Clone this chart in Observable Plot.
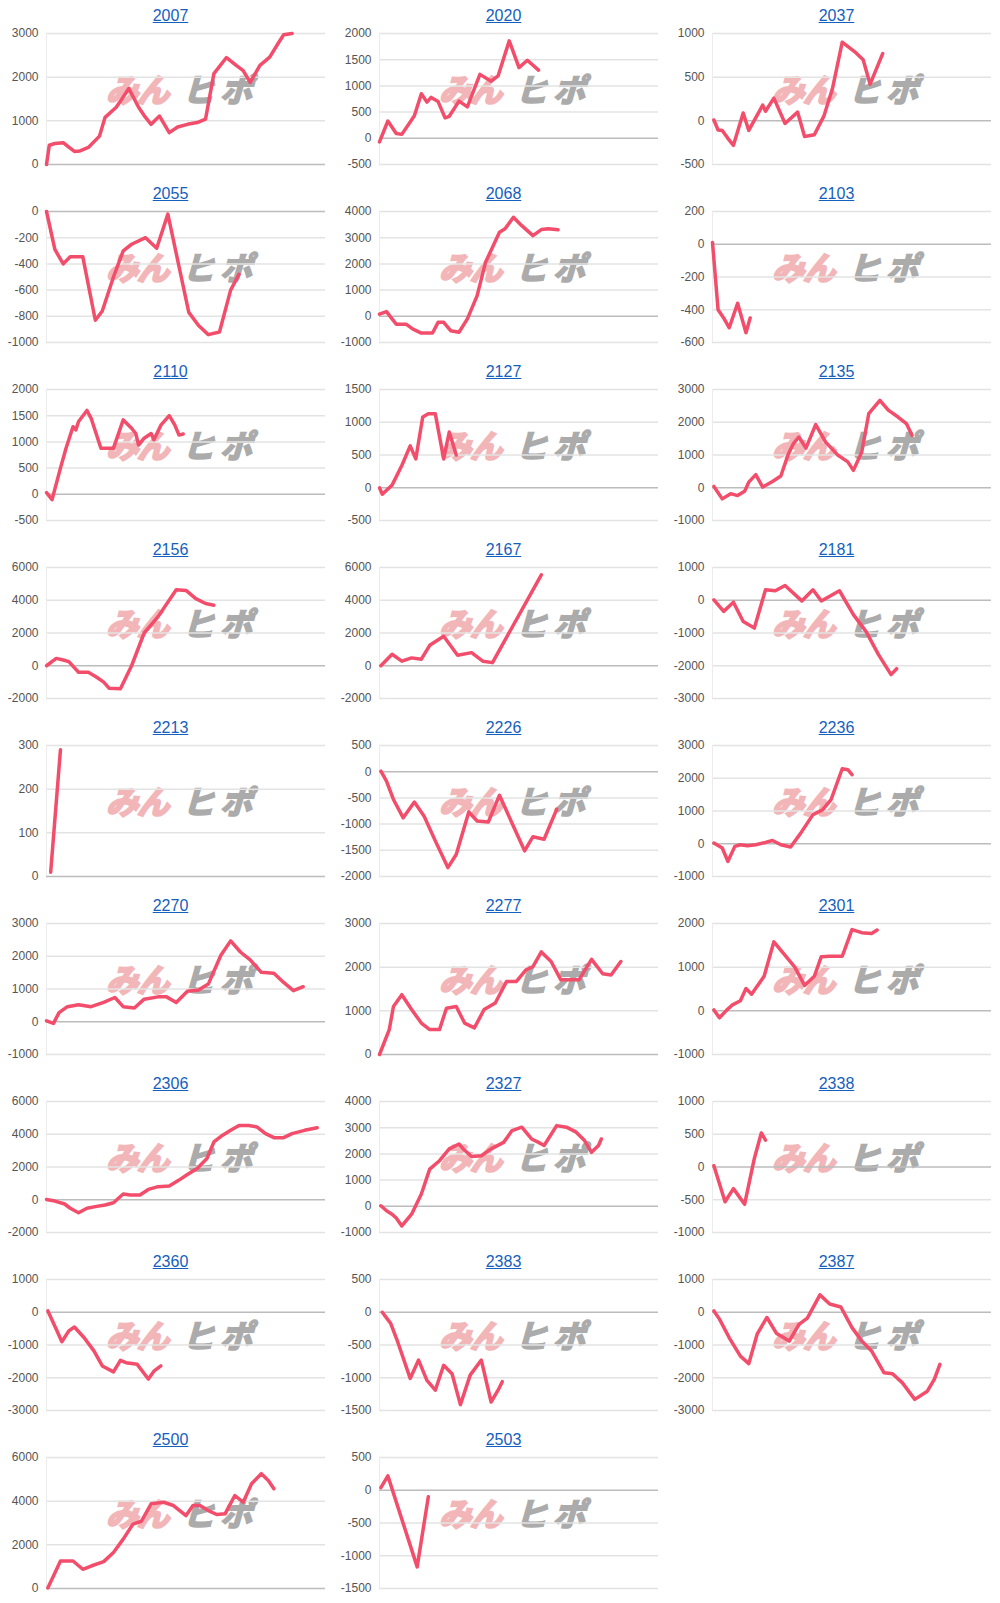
<!DOCTYPE html>
<html><head><meta charset="utf-8">
<script src="https://cdn.jsdelivr.net/npm/d3@7"></script>
<script src="https://cdn.jsdelivr.net/npm/@observablehq/plot@0.6"></script>
<style>
body{margin:0;background:#fff;font-family:"Liberation Sans",Arial,sans-serif;}
#grid{display:grid;grid-template-columns:repeat(3,333px);grid-auto-rows:178px;width:1000px;}
.panel{position:relative;width:333px;height:178px;overflow:hidden;}
.title{position:relative;height:28px;line-height:32px;text-align:center;padding-left:8px;font-size:16px;z-index:2;}
.title a{color:#1560bd;text-decoration:underline;}
.wm{position:absolute;left:110px;top:72px;line-height:32px;font-family:"Noto Sans CJK JP",sans-serif;font-weight:700;font-size:32px;transform:skewX(-16deg);white-space:nowrap;z-index:0;}
.wm .a{color:#f2b6b9;-webkit-text-stroke:2.5px #f2b6b9;letter-spacing:-1px}
.wm .b{color:#ababab;-webkit-text-stroke:2px #ababab;margin-left:14px;letter-spacing:6px}
.panel svg{position:relative;z-index:1;display:block}
</style></head>
<body>
<div id="grid"></div>
<script>
// panel codes (titles)
const codes = ["2007","2020","2037","2055","2068","2103","2110","2127","2135","2156","2167","2181","2213","2226","2236","2270","2277","2301","2306","2327","2338","2360","2383","2387","2500","2503"];

// y tick labels per panel
const t2007 = [0,1000,2000,3000];
const t2020 = [-500,0,500,1000,1500,2000];
const t2037 = [-500,0,500,1000];
const t2055 = [-1000,-800,-600,-400,-200,0];
const t2068 = [-1000,0,1000,2000,3000,4000];
const t2103 = [-600,-400,-200,0,200];
const t2110 = [-500,0,500,1000,1500,2000];
const t2127 = [-500,0,500,1000,1500];
const t2135 = [-1000,0,1000,2000,3000];
const t2156 = [-2000,0,2000,4000,6000];
const t2167 = [-2000,0,2000,4000,6000];
const t2181 = [-3000,-2000,-1000,0,1000];
const t2213 = [0,100,200,300];
const t2226 = [-2000,-1500,-1000,-500,0,500];
const t2236 = [-1000,0,1000,2000,3000];
const t2270 = [-1000,0,1000,2000,3000];
const t2277 = [0,1000,2000,3000];
const t2301 = [-1000,0,1000,2000];
const t2306 = [-2000,0,2000,4000,6000];
const t2327 = [-1000,0,1000,2000,3000,4000];
const t2338 = [-1000,-500,0,500,1000];
const t2360 = [-3000,-2000,-1000,0,1000];
const t2383 = [-1500,-1000,-500,0,500];
const t2387 = [-3000,-2000,-1000,0,1000];
const t2500 = [0,2000,4000,6000];
const t2503 = [-1500,-1000,-500,0,500];

// series: [day, value]
const s2007 = [[0,0],[1,440],[3,480],[6,500],[8,400],[10,300],[12,310],[15,390],[19,650],[21,1080],[25,1310],[27,1500],[29.5,1740],[33,1310],[35,1120],[37.5,920],[40.5,1110],[44,730],[47,860],[50.5,920],[54,960],[57,1040],[60,2080],[64.5,2450],[68,2270],[70.5,2150],[73,1880],[76.5,2270],[80,2460],[83,2770],[85,2970],[88,3000]];
const s2020 = [[0,-70],[3,330],[6,90],[8,75],[12.5,430],[15,850],[17,690],[18.5,780],[21,700],[23.5,390],[25,420],[28.5,710],[31.5,600],[36,1220],[40,1090],[42.5,1190],[46.5,1860],[50,1350],[53,1490],[57,1300]];
const s2037 = [[0.5,10],[2,-105],[3.5,-110],[5.5,-200],[7.5,-280],[11,90],[13,-110],[18,180],[19,110],[22,260],[26,-30],[30.5,100],[33,-180],[36.5,-160],[40,60],[43,370],[46.5,900],[51,790],[54,700],[56.5,420],[61,770]];
const s2055 = [[0,0],[3,-290],[6,-400],[8.5,-345],[13,-345],[17.5,-830],[20,-760],[24,-500],[27.5,-300],[30.5,-250],[35.5,-200],[39.5,-280],[43.5,-20],[51,-770],[54.5,-870],[58,-940],[62,-920],[66,-600],[69,-480]];
const s2068 = [[0,80],[2.5,180],[4.5,-100],[6,-300],[9.5,-300],[12,-490],[15,-640],[19,-640],[21,-230],[23,-230],[25.5,-550],[28.5,-610],[31.5,-100],[35,790],[38,2060],[43,3210],[45,3340],[48,3780],[51,3460],[55,3080],[58,3310],[60.5,3340],[64,3300]];
const s2103 = [[0,10],[2,-400],[4,-450],[6,-510],[9,-360],[12,-540],[13.5,-450]];
const s2110 = [[0,30],[2,-100],[5,500],[7,880],[9.5,1290],[10.5,1230],[11.5,1390],[14.5,1600],[16,1450],[19.5,880],[24,880],[27.5,1420],[30.5,1260],[32,1160],[33,940],[35,1070],[37.5,1160],[38.5,1040],[41,1320],[44,1500],[46,1320],[47.5,1130],[49,1150]];
const s2127 = [[0,0],[1,-100],[4.5,40],[8,340],[11,640],[13,440],[15.5,1080],[17.5,1130],[20,1130],[23,440],[25,850],[27.5,500]];
const s2135 = [[0.5,40],[3.5,-340],[6.5,-180],[9,-240],[11.5,-110],[13,170],[15.5,400],[18,20],[21.5,190],[24.5,360],[27,990],[29,1350],[31,1550],[33.5,1210],[37,1930],[40.5,1400],[45,990],[48.5,790],[50.5,530],[53.5,1090],[56,2260],[60,2670],[63,2370],[66.5,2160],[69.5,1960],[71.5,1600]];
const s2156 = [[0,0],[3.5,450],[6,350],[8,250],[11.5,-400],[15,-400],[18,-700],[20.5,-1000],[22.5,-1380],[26.5,-1400],[30.5,0],[35,2000],[40,3000],[46.5,4640],[50,4600],[53.5,4100],[57,3800],[60,3700]];
const s2167 = [[0.5,0],[4.5,700],[8,280],[11.5,480],[15,400],[18,1250],[23,1800],[28,640],[33,800],[37,280],[40.5,190],[58,5550]];
const s2181 = [[0.5,10],[4,-340],[7.5,-60],[11,-650],[15,-850],[19,320],[22.5,290],[26,450],[32,-20],[36,320],[39,-20],[45.5,290],[50.5,-440],[55,-950],[59.5,-1660],[64,-2270],[66,-2090]];
const s2213 = [[1.5,10],[5,290]];
const s2226 = [[0.5,10],[2.5,-180],[5,-530],[8.5,-880],[12.5,-580],[16,-850],[20,-1320],[24.5,-1830],[27.5,-1580],[32,-770],[35,-940],[39,-960],[43,-450],[48,-1040],[52,-1510],[55,-1240],[59,-1290],[63.5,-720]];
const s2236 = [[0.5,20],[3.5,-130],[5.5,-540],[8,-80],[10,-30],[12.5,-60],[15.5,-30],[19,40],[21.5,100],[24.5,-30],[28,-100],[31.5,310],[36,890],[39.5,1040],[42.5,1350],[46.5,2290],[48.5,2260],[50,2110]];
const s2270 = [[0,30],[2.5,-50],[4.5,280],[7.5,460],[11.5,520],[16,460],[20.5,590],[24.5,740],[27.5,460],[31.5,420],[35,690],[40,760],[43,760],[46.5,590],[50.5,930],[54.5,970],[58,1150],[62.5,2030],[66,2470],[69.5,2130],[73,1890],[77,1510],[81.5,1480],[85,1200],[88.5,950],[92,1070]];
const s2277 = [[0,0],[3.5,570],[5,1100],[8,1370],[11.5,1030],[15,720],[18,570],[21.5,570],[24,1060],[27.5,1100],[30.5,720],[34,610],[37.5,1030],[41.5,1180],[45.5,1670],[49,1670],[52.5,1940],[55,2010],[58,2350],[61.5,2130],[65,1710],[68,1710],[71.5,1710],[76,2180],[80,1850],[83,1820],[86.5,2130]];
const s2301 = [[0.5,20],[2.5,-160],[5,10],[7,130],[10,230],[12,510],[14,380],[18.5,790],[22,1580],[25.5,1310],[29.5,1000],[33,580],[36.5,790],[39,1240],[42,1250],[46.5,1250],[50,1860],[53.5,1790],[57,1770],[59,1850]];
const s2306 = [[0,20],[3,-80],[6.5,-260],[8.5,-520],[11.5,-790],[14.5,-520],[17.5,-420],[21,-320],[24,-180],[27.5,350],[30,290],[33.5,290],[36.5,630],[40,800],[44,840],[47.5,1200],[50.5,1540],[54,1910],[57.5,2520],[60,3530],[63,3930],[66,4240],[69,4540],[72.5,4540],[75.5,4440],[78.5,4040],[81.5,3790],[85,3790],[88,4040],[92.5,4240],[97,4400]];
const s2327 = [[0.5,20],[2.5,-170],[4.5,-300],[6,-450],[8,-750],[11.5,-300],[15,470],[18,1420],[21.5,1740],[25,2190],[28.5,2380],[30,2190],[33,1900],[36.5,1930],[40,2190],[44.5,2440],[47.5,2890],[51,3020],[54.5,2570],[57,2440],[59,2320],[63.5,3080],[67,3020],[70.5,2830],[73.5,2510],[76,2060],[78.5,2320],[79.5,2570]];
const s2338 = [[0.5,20],[4.5,-530],[7.5,-330],[11.5,-570],[15,130],[17.5,520],[19,410]];
const s2360 = [[0.5,40],[3.5,-520],[5.5,-900],[8,-570],[10,-450],[13.5,-780],[17,-1180],[20,-1640],[24,-1820],[26.5,-1470],[28.5,-1540],[32.5,-1590],[36.5,-2040],[38.5,-1800],[41,-1640]];
const s2383 = [[1,0],[4,-170],[6.5,-450],[11,-1010],[14,-730],[17,-1040],[20,-1190],[23,-810],[26,-940],[29,-1410],[32.5,-960],[36.5,-730],[40,-1370],[42.5,-1190],[44,-1060]];
const s2387 = [[0.5,40],[2.5,-210],[6,-780],[10,-1340],[13,-1570],[16,-670],[19.5,-160],[23,-650],[27.5,-880],[31,-370],[34,-180],[38.5,530],[42,250],[46,160],[50,-470],[53.5,-880],[57,-1180],[61.5,-1850],[64.5,-1880],[68,-2150],[72.5,-2660],[77,-2410],[79.5,-2050],[81.5,-1590]];
const s2500 = [[0.5,30],[2.5,570],[5,1260],[9.5,1260],[13,880],[16,1030],[20.5,1230],[24,1650],[27.5,2260],[31,2950],[34,3080],[37.5,3880],[42,3950],[45.5,3800],[50,3340],[52.5,3800],[55,3800],[58,3570],[61,3390],[64,3420],[67.5,4260],[70.5,3950],[73.5,4800],[77,5260],[79.5,4950],[81.5,4570]];
const s2503 = [[0.5,40],[3,220],[13.5,-1170],[17.5,-100]];

const seriesList = [s2007,s2020,s2037,s2055,s2068,s2103,s2110,s2127,s2135,s2156,s2167,s2181,s2213,s2226,s2236,s2270,s2277,s2301,s2306,s2327,s2338,s2360,s2383,s2387,s2500,s2503];
const tickList = [t2007,t2020,t2037,t2055,t2068,t2103,t2110,t2127,t2135,t2156,t2167,t2181,t2213,t2226,t2236,t2270,t2277,t2301,t2306,t2327,t2338,t2360,t2383,t2387,t2500,t2503];
const dayDomain = [0, 100];

const grid = document.getElementById("grid");
codes.forEach((code, i) => {
  const ticks = tickList[i];
  const data = seriesList[i];
  const panel = document.createElement("div");
  panel.className = "panel";
  const title = document.createElement("div");
  title.className = "title";
  title.innerHTML = `<a href="#">${code}</a>`;
  panel.appendChild(title);
  const wm = document.createElement("div");
  wm.className = "wm";
  wm.innerHTML = `<span class="a">みん</span><span class="b">ヒポ</span>`;
  panel.appendChild(wm);
  const chart = Plot.plot({
    width: 333, height: 150,
    marginTop: 5, marginBottom: 14, marginLeft: 46, marginRight: 8,
    x: {domain: dayDomain, axis: null},
    y: {domain: d3.extent(ticks)},
    style: {background: "transparent", color: "#555", fontSize: "12px", fontFamily: "'Liberation Sans', Arial, sans-serif", overflow: "visible"},
    marks: [
      Plot.ruleY(ticks.filter(t => t !== 0), {stroke: "#e3e3e3", strokeWidth: 1.5}),
      Plot.ruleX([dayDomain[0]], {stroke: "#ececec", strokeWidth: 1}),
      Plot.ruleY([0], {stroke: "#bcbcbc", strokeWidth: 1.5}),
      Plot.axisY(ticks, {tickSize: 0, tickPadding: 8, tickFormat: d => String(d), fontSize: 12}),
      Plot.line(data, {x: d => d[0], y: d => d[1], stroke: "#f24d6b", strokeWidth: 3.5, strokeLinejoin: "round", strokeLinecap: "round"})
    ]
  });
  panel.appendChild(chart);
  grid.appendChild(panel);
});
</script>
</body></html>
